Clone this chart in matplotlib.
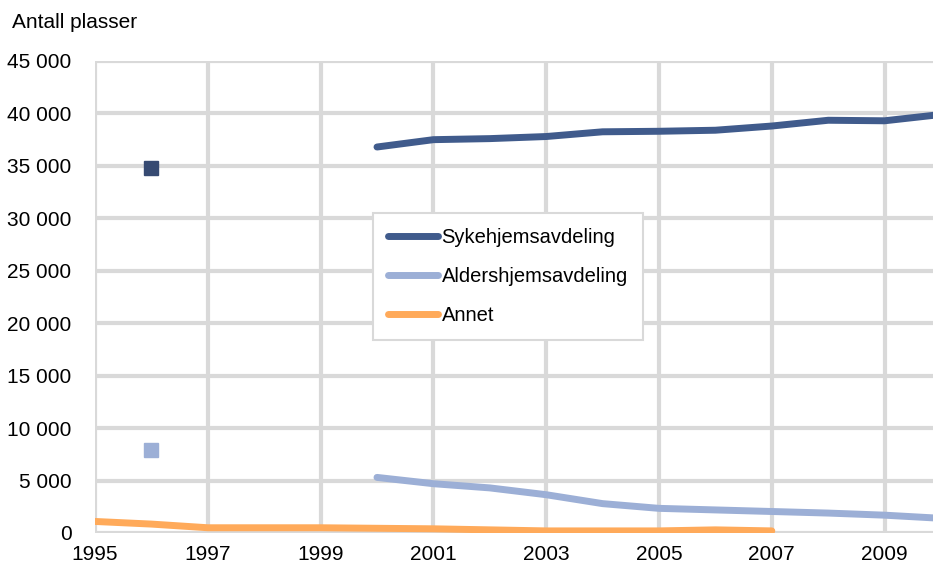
import numpy as np
import matplotlib
matplotlib.use('Agg')
import matplotlib.pyplot as plt
from matplotlib.ticker import FuncFormatter

plt.rcParams['font.family'] = ['Liberation Sans', 'DejaVu Sans']

# Data
years = [2000, 2001, 2002, 2003, 2004, 2005, 2006, 2007, 2008, 2009, 2010]
sykehjem = [36800, 37500, 37600, 37800, 38250, 38300, 38400, 38800, 39350, 39300, 39900]
aldershjem = [5300, 4700, 4300, 3650, 2800, 2350, 2200, 2050, 1900, 1700, 1400]

annet_years = [1995, 1996, 1997, 1998, 1999, 2000, 2001, 2002, 2003, 2004, 2005, 2006, 2007]
annet = [1100, 850, 500, 500, 500, 450, 400, 300, 200, 200, 200, 300, 200]

# single observations in 1996
single_year = [1996]
sykehjem_1996 = [34800]
aldershjem_1996 = [7900]

c_syk = '#405B8C'
c_ald = '#9CAFD6'
c_ann = '#FFAA5A'
grid_c = '#D9D9D9'

fig = plt.figure(figsize=(9.33, 5.67), dpi=100)
ax = fig.add_axes([95/933, 1 - 533/567, 1 - 95/933, (533 - 61)/567])

ax.plot(years, sykehjem, color=c_syk, lw=5, solid_capstyle='round', label='Sykehjemsavdeling', zorder=3)
ax.plot(years, aldershjem, color=c_ald, lw=5, solid_capstyle='round', label='Aldershjemsavdeling', zorder=3)
ax.plot(annet_years, annet, color=c_ann, lw=5, solid_capstyle='round', label='Annet', zorder=3)
ax.plot(single_year, sykehjem_1996, 's', color='#364A72', ms=10.5, zorder=4)
ax.plot(single_year, aldershjem_1996, 's', color=c_ald, ms=10.5, zorder=4)

ax.set_xlim(1995, 1995 + (933 - 95) / 56.4)
ax.set_ylim(0, 45000)
ax.set_xticks(range(1995, 2010, 2))
ax.set_yticks(range(0, 45001, 5000))
ax.yaxis.set_major_formatter(FuncFormatter(lambda v, p: f'{int(v):,}'.replace(',', ' ')))

ax.grid(True, color=grid_c, lw=3, zorder=0)
for s in ax.spines.values():
    s.set_visible(False)
ax.tick_params(length=0, labelsize=15, colors='black')
ax.tick_params(axis='y', pad=17)
ax.tick_params(axis='x', pad=9)

fig.text(12/933, 1 - 22/567, 'Antall plasser', fontsize=15, va='center', ha='left')

leg = ax.legend(loc='upper left', bbox_to_anchor=(373/933, 1 - 213/567),
                bbox_transform=fig.transFigure, fontsize=14.5, frameon=True,
                fancybox=False, handlelength=2.5, handletextpad=0.15,
                labelspacing=1.0, borderpad=0.75, borderaxespad=0)
leg.get_frame().set_edgecolor(grid_c)
leg.get_frame().set_linewidth(1.5)
leg.get_frame().set_alpha(1)

fig.savefig('out.png', dpi=100)
